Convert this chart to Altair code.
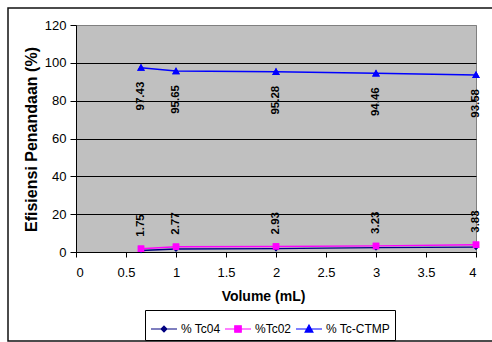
import altair as alt
import pandas as pd

FONT = "Liberation Sans"

volume = [0.65, 1, 2, 3, 4]
tc04 = [0.82, 1.58, 1.79, 2.31, 2.59]
tc02 = [1.75, 2.77, 2.93, 3.23, 3.83]
ctmp = [97.43, 95.65, 95.28, 94.46, 93.58]

series_names = ["% Tc04", "%Tc02", "% Tc-CTMP"]
series_colors = ["#000080", "#FF00FF", "#0000FF"]
series_shapes = [
    "M-1,0H1M0,-0.22L0.22,0L0,0.22L-0.22,0Z",
    "M-1,0H1M-0.25,-0.25H0.25V0.25H-0.25Z",
    "M-1,0H1M0,-0.3L0.3,0.24H-0.3Z",
]
x_ticks = [0, 0.5, 1, 1.5, 2, 2.5, 3, 3.5, 4]
y_ticks = [0, 20, 40, 60, 80, 100, 120]

rows = []
for name, vals in zip(series_names, [tc04, tc02, ctmp]):
    for v, val in zip(volume, vals):
        rows.append({"Volume": v, "Efisiensi": val, "Seri": name})
df = pd.DataFrame(rows)

x_enc = alt.X(
    "Volume:Q",
    scale=alt.Scale(domain=[0, 4], nice=False, zero=False),
    axis=alt.Axis(
        values=x_ticks, format="~g", title="Volume (mL)", grid=False,
        domainColor="black", tickColor="black", tickSize=5, labelPadding=9,
        labelFont=FONT, labelFontSize=13, labelColor="black",
        titleFont=FONT, titleFontSize=14, titleFontWeight="bold", titleColor="black",
        titleX=187, titleY=37, titleBaseline="top",
    ),
)
y_enc = alt.Y(
    "Efisiensi:Q",
    scale=alt.Scale(domain=[0, 120], nice=False),
    axis=alt.Axis(
        values=y_ticks, title="Efisiensi Penandaan (%)", grid=True,
        gridColor={"condition": {"test": "datum.value === 120", "value": "#808080"}, "value": "#000000"},
        gridWidth=1,
        domainColor="black", tickColor="black", tickSize=6, labelPadding=4,
        labelFont=FONT, labelFontSize=13, labelColor="black",
        titleFont=FONT, titleFontSize=16, titleFontWeight="bold", titleColor="black",
        titleX=-37, titleY=114, titleAngle=270, titleBaseline="bottom", titleAlign="center",
    ),
)

legend = alt.Legend(
    title=None, orient="none", legendX=69, legendY=285, direction="horizontal",
    symbolSize=676, symbolStrokeWidth=1.2, labelFont=FONT, labelFontSize=12,
    labelColor="black", labelOffset=3, columnPadding=1, padding=5,
    strokeColor="black", fillColor="white",
)

color_scale = alt.Scale(domain=series_names, range=series_colors)
shape_scale = alt.Scale(domain=series_names, range=series_shapes)

base = alt.Chart(df)

# point layer that carries the legend (first, so its legend settings win)
points_legend = base.mark_point(filled=True, size=676, strokeWidth=0, opacity=1).encode(
    x=x_enc, y=y_enc,
    color=alt.Color("Seri:N", scale=color_scale, legend=legend),
    shape=alt.Shape("Seri:N", scale=shape_scale, legend=legend),
    stroke=alt.Stroke("Seri:N", scale=color_scale, legend=legend),
)

lines = base.mark_line(strokeWidth=1.4).encode(
    x=x_enc, y=y_enc,
    color=alt.Color("Seri:N", scale=color_scale, legend=None),
    detail="Seri:N",
)

points = base.mark_point(filled=True, size=676, strokeWidth=0, opacity=1).encode(
    x=x_enc, y=y_enc,
    color=alt.Color("Seri:N", scale=color_scale, legend=None),
    shape=alt.Shape("Seri:N", scale=shape_scale, legend=None),
    stroke=alt.Stroke("Seri:N", scale=color_scale, legend=None),
)

lbl_ctmp = base.transform_filter(alt.datum.Seri == "% Tc-CTMP").mark_text(
    angle=270, align="right", baseline="middle", dx=-14,
    font=FONT, fontSize=11.5, fontWeight="bold", color="black",
).encode(x=x_enc, y=y_enc, text=alt.Text("Efisiensi:Q", format=".2f"))

lbl_tc02 = base.transform_filter(alt.datum.Seri == "%Tc02").mark_text(
    angle=270, align="left", baseline="middle", dx=12,
    font=FONT, fontSize=11.5, fontWeight="bold", color="black",
).encode(x=x_enc, y=y_enc, text=alt.Text("Efisiensi:Q", format=".2f"))

frame = alt.Chart(pd.DataFrame({"a": [0]})).mark_rect(
    fill="transparent", stroke="#111111", strokeWidth=1.5
).encode(
    x=alt.value(-68), x2=alt.value(440), y=alt.value(-17), y2=alt.value(316)
)

chart = alt.layer(points_legend, frame, lines, points, lbl_ctmp, lbl_tc02).properties(
    width=400, height=227,
    padding={"left": 76, "top": 25, "right": 16, "bottom": 90},
    autosize=alt.AutoSizeParams(type="none"),
    background="white",
).configure_view(
    fill="#C0C0C0", stroke="#808080", strokeWidth=1
)

chart.save("out.html", embed_options={"renderer": "svg", "actions": False})
